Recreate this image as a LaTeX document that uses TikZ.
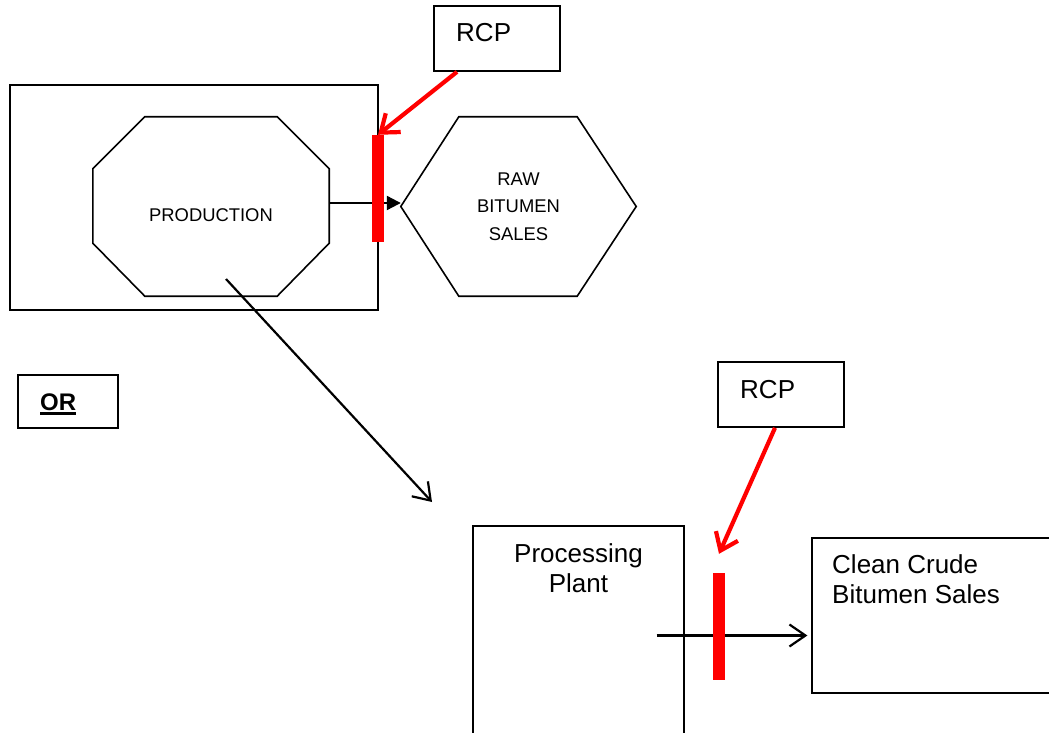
\documentclass[tikz,border=0pt]{standalone}
\usepackage{fontspec}
\setmainfont{Liberation Sans}
\usetikzlibrary{arrows.meta}

\begin{document}
\begin{tikzpicture}[x=1pt, y=-1pt,
    box/.style={draw, line width=1.2pt, inner sep=0pt},
    rcpbox/.style={draw, line width=1.7pt, inner sep=0pt, minimum width=126pt, minimum height=65pt},
    gate/.style={fill=red, inner sep=0pt, minimum width=12pt, minimum height=107pt},
    flow/.style={line width=2.2pt},
    rcpline/.style={red, line width=4.2pt, -{Straight Barb[length=16pt, width=24pt]}},
    small/.style={font=\fontsize{18.4}{27.5}\selectfont, align=center, inner sep=0pt},
    big/.style={font=\fontsize{26}{30}\selectfont, inner sep=0pt}]

    \path[use as bounding box, clip] (0,0) rectangle (1049,733);

    % upper part
    \node[box, minimum width=368pt, minimum height=225pt] (prodarea) at (194,197.5) {};
    \node[minimum width=236pt, minimum height=179pt, inner sep=0pt] (oct) at (211,206.5) {};
    \draw[line width=1.6pt] ([xshift=52pt]oct.north west) -- ([xshift=-52pt]oct.north east)
        -- ([yshift=-52pt]oct.north east) -- ([yshift=53pt]oct.south east)
        -- ([xshift=-52pt]oct.south east) -- ([xshift=52pt]oct.south west)
        -- ([yshift=53pt]oct.south west) -- ([yshift=-52pt]oct.north west) -- cycle;
    \node[small, anchor=base] (prodtxt) at (211,221) {PRODUCTION};
    \node[small, minimum width=235pt, minimum height=179pt] (raw) at (518.5,206.5) {RAW\\BITUMEN\\SALES};
    \draw[line width=1.6pt] (raw.west) -- ([xshift=58pt]raw.north west) -- ([xshift=-59pt]raw.north east)
        -- (raw.east) -- ([xshift=-59pt]raw.south east) -- ([xshift=58pt]raw.south west) -- cycle;
    \draw[flow, -{Triangle[length=14pt, width=14pt]}] ([yshift=3.5pt]oct.east) -- ([yshift=3.5pt]raw.west);
    \node[gate] (gatetop) at (378,188.5) {};
    \node[rcpbox] (rcptop) at (497,38.5) {};
    \node[big, anchor=base west] (rcptoptxt) at (456,42) {RCP};
    \draw[rcpline] ([xshift=-40pt]rcptop.south) -- (gatetop.north);

    % OR
    \node[box, line width=1.7pt, minimum width=100pt, minimum height=53pt] (orbox) at (68,401.5) {};
    \node[font=\fontsize{24}{26}\selectfont\bfseries, inner sep=0pt, anchor=base west] (ortxt) at (40,410) {OR};
    \draw[line width=3.3pt] ([yshift=-3.4pt]ortxt.base west) -- ([yshift=-3.4pt]ortxt.base east);

    % lower part
    \coordinate (branch) at (432,502);
    \draw[flow, -{Straight Barb[length=16pt, width=22pt]}] ([shift={(15,72.5)}]oct.center) -- (branch);
    \node[box, minimum width=211pt, minimum height=219pt] (plant) at (578.5,635.5) {};
    \node[big, align=center, anchor=north] (planttxt) at (578.5,543) {Processing\\Plant};
    \node[box, minimum width=240pt, minimum height=155pt] (clean) at (932,615.5) {};
    \node[big, align=left, anchor=north west] (cleantxt) at (832,554) {Clean Crude\\Bitumen Sales};
    \draw[flow, shorten >=4pt, -{Straight Barb[length=16pt, width=22pt]}] ([xshift=-28pt]plant.east) -- (plant.east -| clean.west);
    \node[gate] (gatebot) at (719,626.5) {};
    \node[rcpbox] (rcpbot) at (781,394.5) {};
    \node[big, anchor=base west] (rcpbottxt) at (740,398) {RCP};
    \draw[rcpline] ([xshift=-6pt]rcpbot.south) -- ([yshift=19pt]gatebot.north);
\end{tikzpicture}
\end{document}
